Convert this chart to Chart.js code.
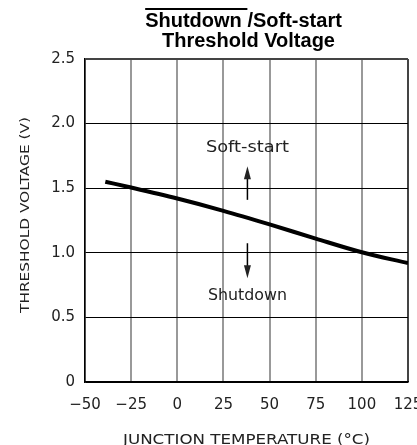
<!DOCTYPE html>
<html>
<head>
<meta charset="utf-8">
<script src="https://cdn.jsdelivr.net/npm/chart.js@4.4.0/dist/chart.umd.min.js"></script>
<style>
  html, body { margin: 0; padding: 0; background: #fff; }
  canvas { display: block; }
</style>
</head>
<body>
<canvas id="chart" width="417" height="445"></canvas>
<script>
// threshold voltage vs junction temperature
const temps = [-39, -25, 0, 25, 50, 75, 100, 125];
const volts = [1.55, 1.505, 1.42, 1.325, 1.22, 1.11, 1.004, 0.92];

const xTicks = [-50, -25, 0, 25, 50, 75, 100, 125];
const yTicks = [0, 0.5, 1.0, 1.5, 2.0, 2.5];

const titleLines = ["Shutdown /Soft-start", "Threshold Voltage"];
const overlined = "Shutdown ";
const xTitle = "JUNCTION TEMPERATURE (\u00B0C)";
const yTitle = "THRESHOLD VOLTAGE (V)";

const notes = ["Soft-start", "Shutdown"];
const noteX = [38, 38];
const noteY = [1.815, 0.666];
const arrowX = [38, 38];
const arrowFrom = [1.41, 1.074];
const arrowTo = [1.67, 0.803];

const CAD = '"DejaVu Sans", sans-serif';

// the original uses a wide plotter font: stretch the glyphs to the measured width
function stretched(ctx, text, cx, cy, width) {
    const w = ctx.measureText(text).width;
    ctx.save();
    ctx.translate(cx, cy);
    ctx.scale(width / w, 1);
    ctx.textAlign = "center";
    ctx.fillText(text, 0, 0);
    ctx.restore();
}

const decor = {
    id: "decor",
    afterDraw(chart) {
        const { ctx, scales: { x, y } } = chart;
        ctx.save();
        ctx.fillStyle = "#000";
        ctx.strokeStyle = "#000";
        ctx.textBaseline = "alphabetic";

        // title, two lines, bar over "Shutdown"
        ctx.font = 'bold 20px "Liberation Sans", Arial, sans-serif';
        ctx.textAlign = "center";
        const w1 = ctx.measureText(titleLines[0]).width;
        const c1 = 243.5;
        ctx.fillText(titleLines[0], c1, 26.5);
        ctx.fillText(titleLines[1], 248.5, 46.5);
        const ow = ctx.measureText(overlined).width;
        ctx.fillRect(c1 - w1 / 2, 8, ow, 2);

        // axis titles
        ctx.fillStyle = "#222";
        ctx.font = "14px " + CAD;
        stretched(ctx, xTitle, 246.5, 444, 247);

        ctx.save();
        ctx.translate(29, 215);
        ctx.rotate(-Math.PI / 2);
        ctx.font = "13px " + CAD;
        stretched(ctx, yTitle, 0, 0, 196);
        ctx.restore();

        // notes and arrows
        ctx.font = "16px " + CAD;
        ctx.textBaseline = "middle";
        notes.forEach((t, i) => {
            stretched(ctx, t, x.getPixelForValue(noteX[i]), y.getPixelForValue(noteY[i]), i === 0 ? 83 : 79);
        });
        ctx.lineWidth = 1.5;
        arrowX.forEach((ax, i) => {
            const px = x.getPixelForValue(ax);
            const p0 = y.getPixelForValue(arrowFrom[i]);
            const p1 = y.getPixelForValue(arrowTo[i]);
            const dir = p1 < p0 ? -1 : 1;
            ctx.beginPath();
            ctx.moveTo(px, p0);
            ctx.lineTo(px, p1 - dir * 8);
            ctx.stroke();
            ctx.beginPath();
            ctx.moveTo(px, p1);
            ctx.lineTo(px - 3.5, p1 - dir * 13);
            ctx.lineTo(px + 3.5, p1 - dir * 13);
            ctx.closePath();
            ctx.fill();
        });
        ctx.restore();
    }
};

new Chart(document.getElementById("chart"), {
    type: "scatter",
    data: {
        datasets: [{
            data: temps.map((t, i) => ({ x: t, y: volts[i] })),
            showLine: true,
            borderColor: "#000",
            borderWidth: 4,
            pointRadius: 0,
            cubicInterpolationMode: "monotone",
        }]
    },
    options: {
        responsive: false,
        animation: false,
        layout: { padding: { top: 59, right: 9, left: 0, bottom: 0 } },
        plugins: { legend: { display: false }, tooltip: { enabled: false } },
        scales: {
            x: {
                type: "linear",
                min: -50,
                max: 125,
                afterBuildTicks: s => { s.ticks = xTicks.map(v => ({ value: v })); },
                afterFit: s => { s.height = 63; s.paddingLeft = 0; s.paddingRight = 0; },
                ticks: {
                    padding: 14,
                    color: "#222",
                    font: { family: CAD, size: 15 },
                    callback: v => v < 0 ? "\u2212" + Math.abs(v) : String(v),
                },
                grid: {
                    drawTicks: false,
                    color: c => (c.tick && c.tick.value === 125) ? "#444" : "#999",
                    lineWidth: 2,
                },
                border: { display: true, color: "#000", width: 1.5 },
            },
            y: {
                min: 0,
                max: 2.5,
                afterBuildTicks: s => { s.ticks = yTicks.map(v => ({ value: v })); },
                afterFit: s => { s.width = 85; s.paddingTop = 0; s.paddingBottom = 0; },
                ticks: {
                    padding: 10,
                    color: "#222",
                    font: { family: CAD, size: 15 },
                    callback: v => v === 0 ? "0" : v.toFixed(1),
                },
                grid: {
                    drawTicks: false,
                    color: c => (c.tick && c.tick.value === 2.5) ? "#444" : "#000",
                    lineWidth: c => (c.tick && c.tick.value === 2.5) ? 2 : 1,
                },
                border: { display: true, color: "#000", width: 1.5 },
            }
        }
    },
    plugins: [decor]
});
</script>
</body>
</html>
